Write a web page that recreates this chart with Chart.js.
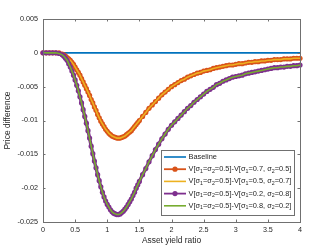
<!DOCTYPE html>
<html>
<head>
<meta charset="UTF-8">
<title>Price difference</title>
<script src="https://cdn.jsdelivr.net/npm/chart.js"></script>
<style>
  html, body { margin: 0; padding: 0; background: #fff; }
</style>
</head>
<body>
<canvas id="myChart" width="332" height="249"></canvas>
<script>
// asset yield ratio grid
const xVals = [0, 0.05, 0.1, 0.15, 0.2, 0.25,
  0.3, 0.325, 0.35, 0.375, 0.4, 0.425, 0.45, 0.475, 0.5, 0.525, 0.55, 0.575, 0.6, 0.625, 0.65, 0.675,
  0.7, 0.725, 0.75, 0.775, 0.8, 0.825, 0.85, 0.875, 0.9, 0.925, 0.95, 0.975, 1.0, 1.025, 1.05, 1.075,
  1.1, 1.125, 1.15, 1.175, 1.2, 1.225, 1.25, 1.275, 1.3, 1.325, 1.35, 1.375, 1.4, 1.425, 1.45, 1.475, 1.5,
  1.55, 1.6, 1.65, 1.7, 1.75, 1.8, 1.85, 1.9, 1.95, 2.0, 2.05, 2.1, 2.15, 2.2, 2.25, 2.3, 2.35, 2.4, 2.45, 2.5,
  2.55, 2.6, 2.65, 2.7, 2.75, 2.8, 2.85, 2.9, 2.95, 3.0, 3.05, 3.1, 3.15, 3.2, 3.25, 3.3, 3.35, 3.4, 3.45, 3.5,
  3.55, 3.6, 3.65, 3.7, 3.75, 3.8, 3.85, 3.9, 3.95, 4.0];

const baseX = [0, 4];
const baseY = [0, 0];

// sigma1=0.7 / sigma2=0.7 cases (the two curves overlap)
const orangeY = [0, 0, 0, 0, 0, 0,
  -0.0002, -0.0003, -0.0005, -0.0007, -0.0009, -0.0011, -0.0014, -0.0017, -0.0021, -0.0025, -0.0029, -0.0033,
  -0.0038, -0.0043, -0.0048, -0.0053, -0.0058, -0.0063, -0.0069, -0.0074, -0.0080, -0.0085, -0.0091, -0.0096,
  -0.0101, -0.0105, -0.0109, -0.0113, -0.0116, -0.0119, -0.0121, -0.0123, -0.0124, -0.0125, -0.0126, -0.0126,
  -0.0126, -0.0125, -0.0124, -0.0123, -0.0121, -0.0119, -0.0117, -0.0115, -0.0112, -0.0109, -0.0106, -0.0103, -0.0100,
  -0.0094, -0.0088, -0.0082, -0.0077, -0.0072, -0.0067, -0.0062, -0.0058, -0.0054, -0.0050,
  -0.0047, -0.0044, -0.0041, -0.0039, -0.0036, -0.0034, -0.0032, -0.0030, -0.0029, -0.0027,
  -0.0026, -0.0025, -0.0023, -0.0022, -0.0021, -0.0020, -0.0019, -0.0018, -0.0018, -0.0017,
  -0.0016, -0.0016, -0.0015, -0.0014, -0.0014, -0.0013, -0.0013, -0.0012, -0.0012, -0.0011,
  -0.0011, -0.0010, -0.0010, -0.0010, -0.0009, -0.0009, -0.0009, -0.0008, -0.0008, -0.0008];
const yellowY = orangeY.slice();

// sigma1=0.2 / sigma1=0.8 cases (also overlapping)
const purpleY = [0, 0, 0, 0, 0, -0.0001,
  -0.0003, -0.0005, -0.0008, -0.0011, -0.0016, -0.0021, -0.0027, -0.0033, -0.0040, -0.0048, -0.0056, -0.0065,
  -0.0074, -0.0084, -0.0094, -0.0104, -0.0115, -0.0126, -0.0138, -0.0149, -0.0160, -0.0170, -0.0180, -0.0189,
  -0.0198, -0.0206, -0.0213, -0.0219, -0.0224, -0.0228, -0.0232, -0.0235, -0.0237, -0.0238, -0.0239, -0.0239,
  -0.0238, -0.0236, -0.0234, -0.0231, -0.0228, -0.0224, -0.0220, -0.0216, -0.0211, -0.0206, -0.0200, -0.0195, -0.0190,
  -0.0180, -0.0171, -0.0161, -0.0152, -0.0143, -0.0135, -0.0127, -0.0120, -0.0113, -0.0107,
  -0.0102, -0.0097, -0.0092, -0.0087, -0.0082, -0.0078, -0.0073, -0.0069, -0.0065, -0.0061,
  -0.0057, -0.0054, -0.0051, -0.0047, -0.0045, -0.0042, -0.0040, -0.0038, -0.0036, -0.0035,
  -0.0034, -0.0033, -0.0031, -0.0030, -0.0029, -0.0028, -0.0027, -0.0026, -0.0025, -0.0024,
  -0.0023, -0.0022, -0.0022, -0.0021, -0.0021, -0.0020, -0.0020, -0.0019, -0.0019, -0.0018];
const greenY = purpleY.slice();

const seriesLabels = [
  'Baseline',
  'V[σ_1=σ_2=0.5]-V[σ_1=0.7, σ_2=0.5]',
  'V[σ_1=σ_2=0.5]-V[σ_1=0.5, σ_2=0.7]',
  'V[σ_1=σ_2=0.5]-V[σ_1=0.2, σ_2=0.8]',
  'V[σ_1=σ_2=0.5]-V[σ_1=0.8, σ_2=0.2]'
];

const FONT = '"Liberation Sans", Arial, Helvetica, sans-serif';
const TXT = '#262626';
const AXIS = '#707070';

function pts(xs, ys) {
  return xs.map((x, i) => ({ x: x, y: ys[i] }));
}

// draws text where "_1" becomes a subscript
function drawSubText(ctx, str, x, y, size) {
  const parts = str.split(/_(\d)/);
  let cx = x;
  for (let i = 0; i < parts.length; i++) {
    if (!parts[i]) continue;
    if (i % 2 === 1) {
      ctx.font = (size * 0.72) + 'px ' + FONT;
      ctx.fillText(parts[i], cx, y + size * 0.3);
    } else {
      ctx.font = size + 'px ' + FONT;
      ctx.fillText(parts[i], cx, y);
    }
    cx += ctx.measureText(parts[i]).width;
  }
}

// matlab style box, inward ticks and legend
const matlabFrame = {
  id: 'matlabFrame',
  afterDatasetsDraw(chart) {
    const ctx = chart.ctx;
    const a = chart.chartArea;
    const xs = chart.scales.x, ys = chart.scales.y;
    ctx.save();
    ctx.strokeStyle = AXIS;
    ctx.lineWidth = 1;
    ctx.beginPath();
    xs.ticks.forEach(t => {
      const px = Math.round(xs.getPixelForValue(t.value)) + 0.5;
      ctx.moveTo(px, a.bottom); ctx.lineTo(px, a.bottom - 2.5);
      ctx.moveTo(px, a.top); ctx.lineTo(px, a.top + 2.5);
    });
    ys.ticks.forEach(t => {
      const py = Math.round(ys.getPixelForValue(t.value)) + 0.5;
      ctx.moveTo(a.left, py); ctx.lineTo(a.left + 2.5, py);
      ctx.moveTo(a.right, py); ctx.lineTo(a.right - 2.5, py);
    });
    ctx.stroke();
    ctx.strokeRect(Math.round(a.left) + 0.5, Math.round(a.top) + 0.5,
      Math.round(a.right - a.left), Math.round(a.bottom - a.top));
    ctx.restore();
  },
  afterDraw(chart) {
    const ctx = chart.ctx;
    const bx = 161.5, by = 150.5, bw = 133, bh = 65;
    ctx.save();
    ctx.fillStyle = '#fff';
    ctx.fillRect(bx, by, bw, bh);
    ctx.strokeStyle = AXIS;
    ctx.lineWidth = 1;
    ctx.strokeRect(bx, by, bw, bh);
    chart.data.datasets.forEach((ds, i) => {
      const ry = 157 + i * 12.2;
      ctx.strokeStyle = ds.borderColor;
      ctx.lineWidth = Math.min(ds.borderWidth, 1.8);
      ctx.beginPath();
      ctx.moveTo(164, ry); ctx.lineTo(186, ry);
      ctx.stroke();
      if (ds.pointRadius > 0) {
        ctx.fillStyle = ds.pointBackgroundColor;
        ctx.beginPath();
        ctx.arc(175, ry, ds.pointRadius, 0, Math.PI * 2);
        ctx.fill();
      }
      ctx.fillStyle = TXT;
      ctx.textBaseline = 'middle';
      ctx.textAlign = 'left';
      drawSubText(ctx, ds.label, 188.5, ry, 7.4);
    });
    ctx.restore();
  }
};

const dados = {
  datasets: [
    {
      label: seriesLabels[0],
      data: pts(baseX, baseY),
      borderColor: '#0072BD',
      borderWidth: 1.6,
      pointRadius: 0,
      order: 5
    },
    {
      label: seriesLabels[1],
      data: pts(xVals, orangeY),
      borderColor: '#D95319',
      borderWidth: 3.4,
      pointRadius: 2.6,
      pointBorderWidth: 0,
      pointBackgroundColor: '#D95319',
      order: 4
    },
    {
      label: seriesLabels[2],
      data: pts(xVals, yellowY),
      borderColor: '#EDB120',
      borderWidth: 1.6,
      pointRadius: 0,
      order: 3
    },
    {
      label: seriesLabels[3],
      data: pts(xVals, purpleY),
      borderColor: '#7E2F8E',
      borderWidth: 3.4,
      pointRadius: 2.6,
      pointBorderWidth: 0,
      pointBackgroundColor: '#7E2F8E',
      order: 2
    },
    {
      label: seriesLabels[4],
      data: pts(xVals, greenY),
      borderColor: '#77AC30',
      borderWidth: 1.6,
      pointRadius: 0,
      order: 1
    }
  ]
};

const options = {
  responsive: false,
  devicePixelRatio: 1,
  animation: false,
  layout: { padding: { left: 0, top: 19, right: 32, bottom: 0 } },
  elements: { line: { tension: 0 }, point: { hoverRadius: 0 } },
  clip: false,
  scales: {
    x: {
      type: 'linear',
      min: 0,
      max: 4,
      ticks: {
        stepSize: 0.5,
        padding: 4,
        color: TXT,
        font: { family: FONT, size: 7.2 },
        maxRotation: 0,
        callback: v => String(+v.toFixed(2))
      },
      grid: { display: false, drawTicks: false },
      border: { display: false },
      title: {
        display: true,
        text: 'Asset yield ratio',
        color: TXT,
        font: { family: FONT, size: 8.4 },
        padding: { top: 0, bottom: 3 }
      },
      afterFit: s => { s.height = 27; }
    },
    y: {
      min: -0.025,
      max: 0.005,
      ticks: {
        stepSize: 0.005,
        padding: 5,
        color: TXT,
        font: { family: FONT, size: 7.2 },
        callback: v => String(+v.toFixed(3))
      },
      grid: { display: false, drawTicks: false },
      border: { display: false },
      title: {
        display: true,
        text: 'Price difference',
        color: TXT,
        font: { family: FONT, size: 8.4 },
        padding: { top: 3, bottom: 0 }
      },
      afterFit: s => { s.width = 43; }
    }
  },
  plugins: {
    legend: { display: false },
    tooltip: { enabled: false }
  }
};

const config = {
  type: 'line',
  data: dados,
  options: options,
  plugins: [matlabFrame]
};

let myChart = new Chart(document.getElementById('myChart'), config);
</script>
</body>
</html>
